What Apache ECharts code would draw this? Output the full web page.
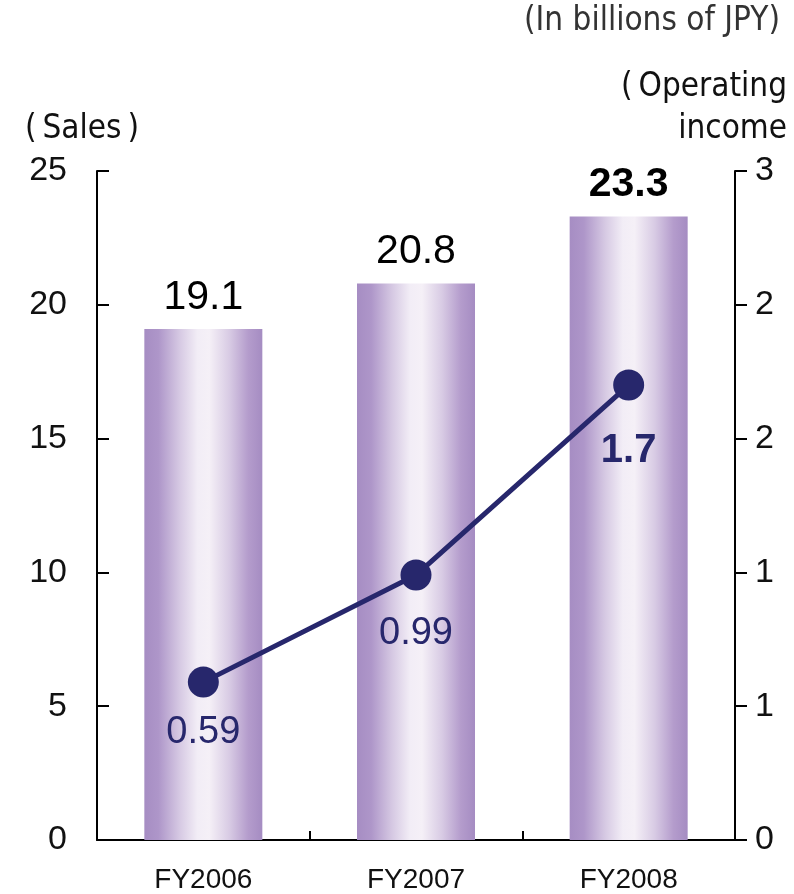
<!DOCTYPE html>
<html>
<head>
<meta charset="utf-8">
<script src="https://cdn.jsdelivr.net/npm/echarts@6/dist/echarts.min.js"></script>
<style>
  html, body { margin: 0; padding: 0; background: #ffffff; }
  #chart { width: 794px; height: 894px; }
</style>
</head>
<body>
<div id="chart"></div>
<script>
// Fiscal years shown on the category axis
const fiscalYears = ['FY2006', 'FY2007', 'FY2008'];
// Sales, billions of JPY (bars, left axis)
const salesValues = [19.1, 20.8, 23.3];
// Operating income, billions of JPY (line, right axis)
const operatingIncomeValues = [0.59, 0.99, 1.7];
// Right-axis tick labels, shown rounded to whole numbers
const incomeTickLabels = ['0', '1', '1', '2', '2', '3'];

const FONT = '"Liberation Sans", Arial, sans-serif';
const NARROW = '"Liberation Sans Narrow", "DejaVu Sans Condensed", "Liberation Sans", sans-serif';
const NAVY = '#27276c';

// Spacing of each income label below its marker
const incomeLabelGap = [16, 24, 30];

const barFill = {
  type: 'linear', x: 0, y: 0, x2: 1, y2: 0,
  colorStops: [
    { offset: 0.0, color: '#a68dc3' },
    { offset: 0.12, color: '#ae96c9' },
    { offset: 0.3, color: '#d6c9e3' },
    { offset: 0.45, color: '#f2edf6' },
    { offset: 0.55, color: '#f5f0f7' },
    { offset: 0.72, color: '#d8cbe4' },
    { offset: 0.88, color: '#b49ccc' },
    { offset: 1.0, color: '#a58cc2' }
  ]
};

const lastIdx = fiscalYears.length - 1;

const chart = echarts.init(document.getElementById('chart'), null, { renderer: 'canvas' });

chart.setOption({
  backgroundColor: '#ffffff',
  animation: false,
  grid: { left: 97, right: 59, top: 171, bottom: 52, containLabel: false },
  graphic: [
    {
      type: 'text', right: 14, top: 5,
      style: { text: '(In billions of JPY)', font: '33px ' + NARROW, fill: '#333333' }
    },
    {
      type: 'text', right: 7, top: 71,
      style: { text: '(\u2009Operating', font: '33px ' + NARROW, fill: '#111111' }
    },
    {
      type: 'text', right: 7, top: 113,
      style: { text: 'income', font: '33px ' + NARROW, fill: '#111111' }
    },
    {
      type: 'text', left: 25, top: 113,
      style: { text: '(\u2009Sales\u2009)', font: '33px ' + NARROW, fill: '#111111' }
    }
  ],
  xAxis: {
    type: 'category',
    data: fiscalYears,
    boundaryGap: true,
    axisLine: { show: true, lineStyle: { color: '#000000', width: 2 } },
    axisTick: { show: true, inside: true, length: 9, alignWithLabel: false, lineStyle: { color: '#000000', width: 2 } },
    axisLabel: { fontFamily: FONT, fontSize: 28, color: '#111111', margin: 26 },
    splitLine: { show: false }
  },
  yAxis: [
    {
      type: 'value', min: 0, max: 25, interval: 5,
      axisLine: { show: true, lineStyle: { color: '#000000', width: 2 } },
      axisTick: { show: true, inside: true, length: 12, lineStyle: { color: '#000000', width: 2 } },
      axisLabel: { fontFamily: FONT, fontSize: 34, color: '#111111', margin: 30 },
      splitLine: { show: false }
    },
    {
      type: 'value', min: 0, max: 2.5, interval: 0.5, position: 'right',
      axisLine: { show: true, lineStyle: { color: '#000000', width: 2 } },
      axisTick: { show: true, inside: false, length: 12, lineStyle: { color: '#000000', width: 2 } },
      axisLabel: {
        fontFamily: FONT, fontSize: 34, color: '#111111', margin: 20,
        formatter: (v) => incomeTickLabels[Math.round(v / 0.5)]
      },
      splitLine: { show: false }
    }
  ],
  series: [
    {
      name: 'Sales',
      type: 'bar',
      yAxisIndex: 0,
      barWidth: 118,
      data: salesValues.map((v, i) => ({
        value: v,
        label: i === lastIdx ? { fontWeight: 'bold' } : undefined
      })),
      itemStyle: { color: barFill },
      label: {
        show: true, position: 'top', distance: 11,
        fontFamily: FONT, fontSize: 41, color: '#000000',
        formatter: (p) => p.value.toFixed(1)
      },
      z: 1
    },
    {
      name: 'Operating income',
      type: 'line',
      yAxisIndex: 1,
      data: operatingIncomeValues.map((v, i) => ({
        value: v,
        label: Object.assign(
          { distance: incomeLabelGap[i] },
          i === lastIdx ? { fontWeight: 'bold', fontSize: 40 } : {}
        )
      })),
      symbol: 'circle',
      symbolSize: 31,
      lineStyle: { color: NAVY, width: 5 },
      itemStyle: { color: NAVY, borderWidth: 0 },
      label: {
        show: true, position: 'bottom',
        fontFamily: FONT, fontSize: 38, color: NAVY,
        formatter: (p) => String(p.value)
      },
      z: 3
    }
  ]
});
</script>
</body>
</html>
